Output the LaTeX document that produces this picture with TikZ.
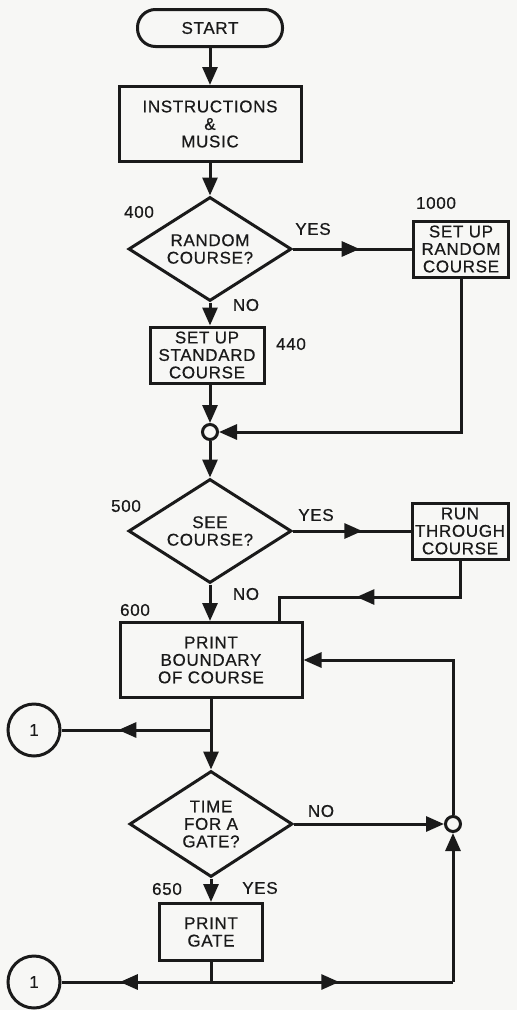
\documentclass[tikz,border=0pt]{standalone}
\usepackage{fontspec}
\usepackage{xcolor}
\usepackage{tikz}
\usetikzlibrary{shapes,arrows.meta,positioning,calc,decorations.markings}
\newfontfamily\chartfont[LetterSpace=4,FakeBold=0.6]{Liberation Sans}
\definecolor{inkgray}{RGB}{26,26,26}
\definecolor{paper}{RGB}{247,247,245}

\tikzset{
  ink/.style={draw=inkgray, line width=3pt},
  flow/.style={ink, -{Triangle[length=18pt,width=15pt]}},
  midflow/.style={ink, postaction={decorate},
    decoration={markings, mark=at position #1 with {\arrow{Triangle[length=18pt,width=15pt]}}}},
  termbox/.style={ink, rectangle, rounded corners=18pt, minimum width=145pt, minimum height=37pt, inner sep=0pt},
  procbox/.style={ink, rectangle, align=center, inner sep=0pt},
  testbox/.style={ink, diamond, aspect=1.6, align=center, inner sep=0pt, minimum width=163pt, minimum height=104pt},
  joint/.style={ink, circle, fill=paper, minimum size=15pt, inner sep=0pt},
  pagelink/.style={ink, circle, minimum size=52pt, inner sep=0pt},
  linetag/.style={inner sep=0pt, text=inkgray}
}

\begin{document}
\begin{tikzpicture}[x=1pt, y=-1pt, font={\chartfont\fontsize{17}{17.5}\selectfont}, text=inkgray]
  \fill[paper] (0,0) rectangle (517,1010);
  \useasboundingbox (0,0) rectangle (517,1010);

  % main column
  \node[termbox] (start) at (210,28) {START};
  \node[procbox, minimum width=182pt, minimum height=75pt] (instr) at (210,124) {INSTRUCTIONS\\\&\\MUSIC};
  \node[testbox] (rnd) at (210,249) {RANDOM\\COURSE?};
  \node[procbox, minimum width=95pt, minimum height=56pt] (rndset) at (461,249) {SET UP\\RANDOM\\COURSE};
  \node[procbox, minimum width=114pt, minimum height=56pt] (stdset) at (207,355) {SET UP\\STANDARD\\COURSE};
  \node[joint] (j1) at (210,432) {};
  \node[testbox] (see) at (210,531) {SEE\\COURSE?};
  \node[procbox, minimum width=96pt, minimum height=56pt] (run) at (460,531) {RUN\\THROUGH\\COURSE};
  \node[procbox, minimum width=182pt, minimum height=75pt] (bnd) at (211,660) {PRINT\\BOUNDARY\\OF COURSE};
  \node[testbox, minimum height=106pt] (tgate) at (211,824) {TIME\\FOR A\\GATE?};
  \node[procbox, minimum width=103pt, minimum height=57pt] (pgate) at (211,932) {PRINT\\GATE};
  \node[joint] (j2) at (453,824) {};
  \node[pagelink] (link1) at (34,730) {1};
  \node[pagelink] (link2) at (34,982) {1};
  \coordinate (bend) at (279,597);
  \coordinate (fork1) at (211,730);
  \coordinate (fork2) at (211,982);

  % line numbers and answers
  \node[linetag] (t400) at (139,212) {400};
  \node[linetag] (t1000) at (436,203) {1000};
  \node[linetag] (t440) at (291,344) {440};
  \node[linetag] (t500) at (126,506) {500};
  \node[linetag] (t600) at (135,610) {600};
  \node[linetag] (t650) at (167,889) {650};
  \node[linetag] (yes1) at (313,229) {YES};
  \node[linetag] (no1) at (246,305) {NO};
  \node[linetag] (yes2) at (316,515) {YES};
  \node[linetag] (no2) at (246,594) {NO};
  \node[linetag] (no3) at (321,811) {NO};
  \node[linetag] (yes3) at (260,888) {YES};

  % connectors
  \draw[flow] (start) -- (instr);
  \draw[flow] (instr) -- (rnd);
  \draw[midflow=0.56] (rnd.east) -- (rndset.west);
  \draw[flow] (rnd.south) -- (rnd.south |- stdset.north);
  \draw[flow] (rnd.south |- stdset.south) -- (j1);
  \draw[flow] (rndset.south) |- (j1);
  \draw[flow] (j1) -- (see);
  \draw[midflow=0.59] (see.east) -- (run.west);
  \draw[midflow=0.58] (run.south) |- (bend) -- (bend |- bnd.north);
  \draw[flow] (see.south) -- (see.south |- bnd.north);
  \draw[flow] (bnd.south) -- (tgate.north);
  \draw[midflow=0.62] (fork1) -- (link1);
  \draw[flow] (tgate.east) -- (j2);
  \draw[flow] (j2) |- (bnd.east);
  \draw[flow] (tgate.south) -- (pgate.north);
  \draw[ink] (pgate.south) -- (fork2);
  \draw[midflow=0.61] (fork2) -- (link2);
  \draw[midflow=0.53] (fork2) -- (fork2 -| j2);
  \draw[flow] (fork2 -| j2) -- (j2);
\end{tikzpicture}
\end{document}
